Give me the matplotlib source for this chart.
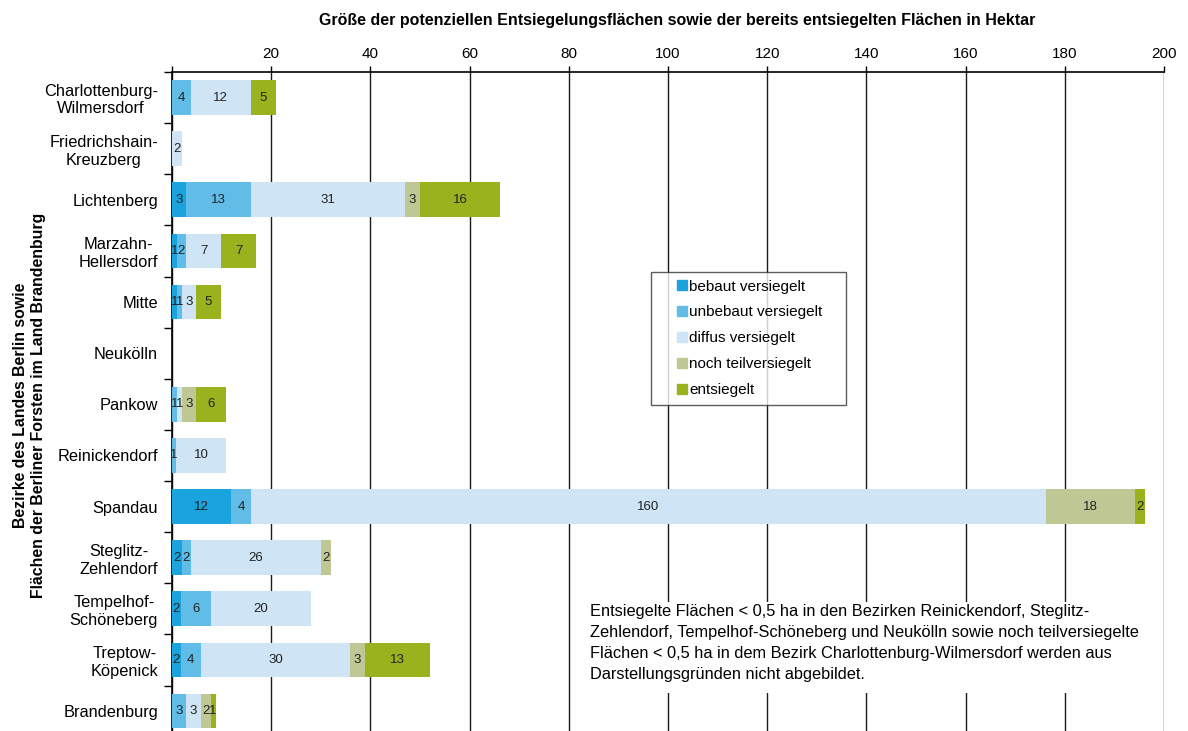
import matplotlib
matplotlib.use("Agg")
import matplotlib.pyplot as plt
from matplotlib.lines import Line2D
from matplotlib.patches import Rectangle
import numpy as np

plt.rcParams['font.family'] = ['Liberation Sans', 'DejaVu Sans']

bezirke = ['Charlottenburg-\nWilmersdorf', 'Friedrichshain-\nKreuzberg', 'Lichtenberg',
           'Marzahn-\nHellersdorf', 'Mitte', 'Neukölln', 'Pankow', 'Reinickendorf',
           'Spandau', 'Steglitz-\nZehlendorf', 'Tempelhof-\nSchöneberg', 'Treptow-\nKöpenick',
           'Brandenburg']

# Hektar je Kategorie
bebaut = [0, 0, 2.8, 0.95, 0.95, 0, 0, 0, 11.9, 2.0, 1.8, 1.8, 0]
unbebaut = [3.8, 0, 13.1, 1.9, 1.05, 0, 0.95, 0.8, 4.0, 1.8, 6.1, 4.0, 2.8]
diffus = [12.1, 2.0, 31.1, 7.1, 2.8, 0, 1.05, 10.1, 160.3, 26.2, 20.1, 30.1, 3.0]
teilversiegelt = [0, 0, 3.0, 0, 0, 0, 2.8, 0, 18.0, 2.0, 0, 3.0, 2.0]
entsiegelt = [5.1, 0, 16.1, 7.0, 5.1, 0, 6.1, 0, 2.0, 0, 0, 13.1, 1.0]

reihen = ['bebaut versiegelt', 'unbebaut versiegelt', 'diffus versiegelt',
          'noch teilversiegelt', 'entsiegelt']
farben = ['#1aa3dc', '#62bce8', '#cfe4f4', '#bfc795', '#9bb21f']

W, H = 1188, 731
fig = plt.figure(figsize=(W / 100, H / 100), dpi=100)
ax = fig.add_axes([172 / W, -0.0077, (1164 - 172) / W, 0.9092])

y = np.arange(len(bezirke))
links = np.zeros(len(bezirke))
for name, werte, farbe in zip(reihen, [bebaut, unbebaut, diffus, teilversiegelt, entsiegelt], farben):
    werte = np.array(werte)
    balken = ax.barh(y, werte, left=links, height=0.68, color=farbe, zorder=3)
    for b, w in zip(balken, werte):
        if w >= 0.5:
            ax.text(b.get_x() + b.get_width() / 2, b.get_y() + b.get_height() / 2,
                    '%.0f' % w, ha='center', va='center', fontsize=9.5, color='#222222', zorder=4)
    links += werte

ax.set_ylim(len(bezirke) - 0.5, -0.5)
ax.set_xlim(0, 200)
ax.xaxis.tick_top()
ax.set_xticks(np.arange(0, 201, 20))
ax.set_xticklabels([''] + [str(v) for v in range(20, 201, 20)], fontsize=11)
ax.tick_params(axis='x', direction='out', length=4, width=1, pad=4)
ax.set_axisbelow(True)
ax.grid(axis='x', color='#1a1a1a', linewidth=1)

ax.set_yticks(y)
ax.set_yticklabels(bezirke, fontsize=11.8, ha='right', multialignment='center')
ax.tick_params(axis='y', length=0, pad=10)
ax.set_yticks(np.arange(-0.5, len(bezirke) + 0.5, 1), minor=True)
ax.tick_params(axis='y', which='minor', length=6, width=1, direction='out')

for s in ['right', 'bottom']:
    ax.spines[s].set_visible(False)
ax.spines['top'].set_linewidth(1.2)
ax.spines['left'].set_linewidth(1.2)

fig.text(677 / W, 1 - 21 / H,
         'Größe der potenziellen Entsiegelungsflächen sowie der bereits entsiegelten Flächen in Hektar',
         ha='center', va='center', fontsize=11.5, fontweight='bold')
fig.text(30 / W, 1 - 405 / H,
         'Bezirke des Landes Berlin sowie\nFlächen der Berliner Forsten im Land Brandenburg',
         rotation=90, ha='center', va='center', fontsize=11.4, fontweight='bold', linespacing=1.25)

handles = [Line2D([], [], marker='s', linestyle='', markersize=7, color=f, label=n)
           for n, f in zip(reihen, farben)]
ax_px = lambda px, py: ((px - 172) / 992, 1 - (py - 72) / 665)
x0, y0 = ax_px(651, 402)
x1, y1 = ax_px(846, 272)
leg = ax.legend(handles=handles, loc='upper left', bbox_to_anchor=(x0, y0, x1 - x0, y1 - y0),
                mode='expand', fontsize=11, frameon=True, fancybox=False, edgecolor='#333333',
                handlelength=3.0, handletextpad=-1.0, labelspacing=0.78, borderpad=0.5,
                borderaxespad=0)
leg.get_frame().set_linewidth(1)
leg.set_zorder(5)

# weisser Hintergrund unter dem Hinweistext
ax.add_patch(Rectangle((578 / W, 1 - 693 / H), (1158 - 578) / W, 91 / H,
                       transform=fig.transFigure, facecolor='white', edgecolor='none', zorder=2))
ax.text(590 / W, 1 - 604 / H,
        'Entsiegelte Flächen < 0,5 ha in den Bezirken Reinickendorf, Steglitz-\n'
        'Zehlendorf, Tempelhof-Schöneberg und Neukölln sowie noch teilversiegelte\n'
        'Flächen < 0,5 ha in dem Bezirk Charlottenburg-Wilmersdorf werden aus\n'
        'Darstellungsgründen nicht abgebildet.',
        transform=fig.transFigure, ha='left', va='top', fontsize=11.8, linespacing=1.5, zorder=6)

fig.savefig('out.png', dpi=100)
